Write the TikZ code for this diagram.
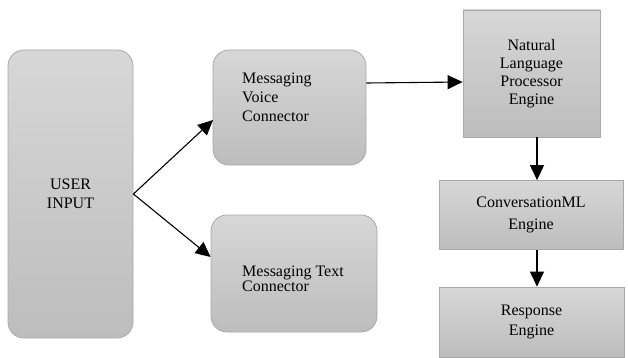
\documentclass[tikz,border=0pt]{standalone}
\usepackage{fontspec}
\setmainfont{Liberation Serif}
\newfontfamily\boxfont{Liberation Serif}
\usetikzlibrary{arrows.meta}
\definecolor{boxtop}{HTML}{D7D7D7}
\definecolor{boxbot}{HTML}{BDBDBD}
\definecolor{boxline}{HTML}{A8A8A8}
\tikzset{
  box/.style={draw=boxline, line width=0.8pt, top color=boxtop, bottom color=boxbot,
    rectangle, inner sep=0pt, align=center, font=\boxfont\fontsize{16}{19}\selectfont},
  roundbox/.style={box, rounded corners=16pt},
  label text/.style={inner sep=0pt, align=left, font=\boxfont\fontsize{16}{19}\selectfont},
  flow/.style={line width=1.1pt, -{Triangle[length=15pt,width=14pt]}},
}
\begin{document}
\begin{tikzpicture}[x=1pt,y=-1pt]
\useasboundingbox (0,0) rectangle (628,358);

% rounded input / connector boxes
\node[roundbox, minimum width=125pt, minimum height=288pt] (user) at (70.5,194) {USER\\INPUT};
\node[roundbox, minimum width=153pt, minimum height=115pt] (voice) at (289.5,107.5) {};
\node[label text, anchor=west] (voicetxt) at (242,97) {Messaging\\Voice\\Connector};
\node[roundbox, minimum width=166pt, minimum height=117pt] (text) at (294,273.5) {};
\node[label text, anchor=west, font=\boxfont\fontsize{16}{14}\selectfont] (texttxt) at (242,279) {Messaging Text\\Connector};

% engine boxes
\node[box, minimum width=137pt, minimum height=127pt, font=\boxfont\fontsize{16}{18}\selectfont] (nlp) at (531.5,73.5) {Natural\\Language\\Processor\\Engine};
\node[box, minimum width=184pt, minimum height=69pt, font=\boxfont\fontsize{16}{22}\selectfont] (cml) at (531,215) {ConversationML\\Engine};
\node[box, minimum width=185pt, minimum height=70pt, font=\boxfont\fontsize{16}{20}\selectfont] (resp) at (531.5,322) {Response\\Engine};

% connectors
\coordinate (fork) at (user.east);
\draw[flow] (fork) -- (213,120) coordinate (vin);
\draw[flow] (fork) -- (text.west |- 0,257);
\draw[flow] (voice.east |- 0,83) -- (nlp.west |- 0,82);
\draw[flow] (nlp.south -| 537,0) -- (cml.north -| 537,0);
\draw[flow] (cml.south -| 537,0) -- (resp.north -| 537,0);
\end{tikzpicture}
\end{document}
